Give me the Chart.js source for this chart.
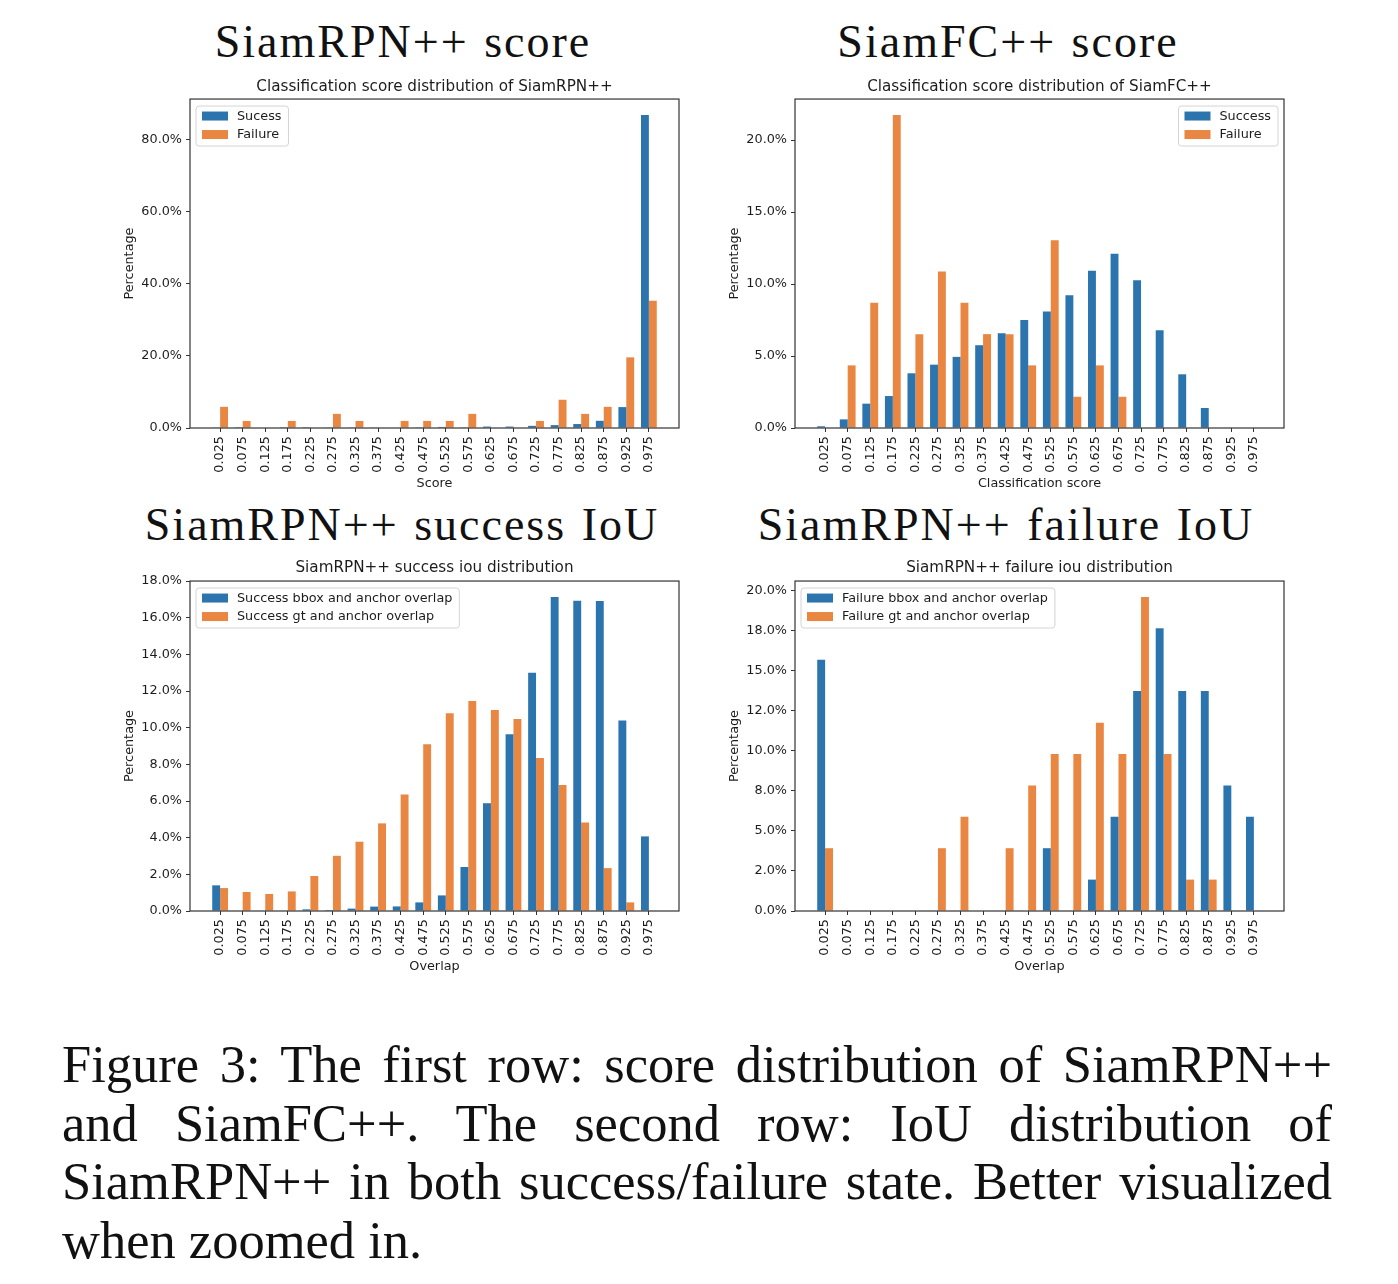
<!DOCTYPE html>
<html><head><meta charset="utf-8">
<script src="https://cdn.jsdelivr.net/npm/chart.js@4.4.1/dist/chart.umd.min.js"></script>
<style>
html,body{margin:0;padding:0;background:#fff;}
body{width:1398px;height:1284px;position:relative;overflow:hidden;}
.hd{position:absolute;font-family:"Liberation Serif",serif;font-size:46px;line-height:46px;letter-spacing:2px;word-spacing:2px;white-space:nowrap;color:#111;transform:translateX(-50%);}
canvas{position:absolute;}
.cap{position:absolute;left:62px;width:1270px;height:58.5px;font-family:"Liberation Serif",serif;font-size:52.5px;line-height:58.5px;color:#111;}
.j{text-align:justify;text-align-last:justify;}
</style></head>
<body>
<div class="hd" style="left:403px;top:19px;">SiamRPN++ score</div>
<div class="hd" style="left:1008px;top:19px;">SiamFC++ score</div>
<div class="hd" style="left:402px;top:502px;">SiamRPN++ success IoU</div>
<div class="hd" style="left:1006px;top:502px;">SiamRPN++ failure IoU</div>

<canvas id="c1" width="580" height="422" style="left:110px;top:72px;width:580px;height:422px;"></canvas>
<canvas id="c2" width="580" height="422" style="left:715px;top:72px;width:580px;height:422px;"></canvas>
<canvas id="c3" width="580" height="427" style="left:110px;top:550px;width:580px;height:427px;"></canvas>
<canvas id="c4" width="580" height="427" style="left:715px;top:550px;width:580px;height:427px;"></canvas>

<div class="cap j" style="top:1035px;">Figure 3: The first row: score distribution of SiamRPN++</div>
<div class="cap j" style="top:1093.5px;">and SiamFC++. The second row: IoU distribution of</div>
<div class="cap j" style="top:1152px;">SiamRPN++ in both success/failure state. Better visualized</div>
<div class="cap" style="top:1210.5px;">when zoomed in.</div>

<script>
// ---------- data ----------
const categories = ['0.025','0.075','0.125','0.175','0.225','0.275','0.325','0.375','0.425','0.475',
                    '0.525','0.575','0.625','0.675','0.725','0.775','0.825','0.875','0.925','0.975'];

const rpnScoreSuccess = [0.1,0.05,0,0.05,0.05,0.1,0.1,0.1,0.15,0.2,0.3,0.2,0.4,0.4,0.6,0.8,1.1,2.0,5.8,86.9];
const rpnScoreFailure = [5.88,1.96,0,1.96,0,3.92,1.96,0,1.96,1.96,1.96,3.92,0,0,1.96,7.84,3.92,5.88,19.61,35.29];

const fcScoreSuccess = [0.12,0.6,1.69,2.22,3.8,4.4,4.94,5.75,6.58,7.51,8.09,9.22,10.92,12.1,10.27,6.79,3.73,1.39,0.03,0];
const fcScoreFailure = [0,4.35,8.7,21.74,6.52,10.87,8.7,6.52,6.52,4.35,13.04,2.17,4.35,2.17,0,0,0,0,0,0];

const successBboxIou = [1.4,0,0.03,0.03,0.09,0.05,0.13,0.24,0.25,0.47,0.85,2.4,5.88,9.64,13.0,17.13,16.93,16.91,10.39,4.07];
const successGtIou   = [1.25,1.04,0.93,1.07,1.91,3.01,3.78,4.78,6.36,9.1,10.79,11.46,10.97,10.48,8.35,6.87,4.83,2.34,0.47,0.02];

const failureBboxIou = [15.69,0,0,0,0,0,0,0,0,0,3.92,0,1.96,5.88,13.73,17.65,13.73,13.73,7.84,5.88];
const failureGtIou   = [3.92,0,0,0,0,3.92,5.88,0,3.92,7.84,9.80,9.80,11.76,9.80,19.61,9.80,1.96,1.96,0,0];

const yTicksRpnScore = [0,20,40,60,80];
const yLabelsRpnScore = ['0.0%','20.0%','40.0%','60.0%','80.0%'];
const yTicksFcScore = [0,5,10,15,20];
const yLabelsFcScore = ['0.0%','5.0%','10.0%','15.0%','20.0%'];
const yTicksSuccIou = [0,2,4,6,8,10,12,14,16,18];
const yLabelsSuccIou = ['0.0%','2.0%','4.0%','6.0%','8.0%','10.0%','12.0%','14.0%','16.0%','18.0%'];
const yTicksFailIou = [0,2.5,5,7.5,10,12.5,15,17.5,20];
const yLabelsFailIou = ['0.0%','2.0%','5.0%','8.0%','10.0%','12.0%','15.0%','18.0%','20.0%'];

// ---------- style ----------
const BLUE = '#2c74ad';
const ORANGE = '#e98642';
const FONT = '"DejaVu Sans", sans-serif';
const TXT = '#1c1c1c';
const SMALL = 12.8;

const mplDecor = {
  id: 'mplDecor',
  afterLayout(chart) {
    if (chart.titleBlock) {
      chart.titleBlock.left = chart.chartArea.left;
      chart.titleBlock.right = chart.chartArea.right;
    }
  },
  afterDraw(chart, args, opts) {
    const ctx = chart.ctx, a = chart.chartArea;
    ctx.save();
    ctx.strokeStyle = '#333'; ctx.lineWidth = 1.2;
    ctx.strokeRect(a.left, a.top, a.right - a.left, a.bottom - a.top);
    ctx.font = SMALL + 'px ' + FONT;
    const items = chart.data.datasets.map(d => ({label: d.label, color: d.backgroundColor}));
    const maxW = Math.max(...items.map(i => ctx.measureText(i.label).width));
    const pad = 6, patchW = 26, patchH = 9, gap = 9, rowH = 18.5;
    const w = pad + patchW + gap + maxW + 7;
    const h = 40;
    const x = opts.align === 'right' ? a.right - 6 - w : a.left + 6;
    const y = a.top + 7;
    ctx.beginPath();
    if (ctx.roundRect) ctx.roundRect(x, y, w, h, 3); else ctx.rect(x, y, w, h);
    ctx.fillStyle = 'rgba(255,255,255,0.85)'; ctx.fill();
    ctx.strokeStyle = '#d4d4d4'; ctx.lineWidth = 1; ctx.stroke();
    items.forEach((it, k) => {
      const cy = y + 10 + k * rowH;
      ctx.fillStyle = it.color;
      ctx.fillRect(x + pad, cy - patchH / 2, patchW, patchH);
      ctx.fillStyle = TXT; ctx.textBaseline = 'middle'; ctx.textAlign = 'left';
      ctx.fillText(it.label, x + pad + patchW + gap, cy + 0.5);
    });
    ctx.restore();
  }
};

function makeChart(id, o) {
  return new Chart(document.getElementById(id), {
    type: 'bar',
    data: {
      datasets: [
        { label: o.names[0], data: o.series[0].map((v, i) => ({x: i, y: v})), backgroundColor: BLUE },
        { label: o.names[1], data: o.series[1].map((v, i) => ({x: i, y: v})), backgroundColor: ORANGE }
      ]
    },
    options: {
      responsive: false, animation: false, events: [],
      datasets: { bar: { categoryPercentage: 0.7, barPercentage: 1.0, borderWidth: 0 } },
      layout: { padding: { left: 0, right: 11, top: 0, bottom: 0 } },
      plugins: {
        legend: { display: false }, tooltip: { enabled: false },
        title: { display: true, text: o.title, color: TXT,
                 font: { family: FONT, size: 15.2, weight: 'normal' },
                 padding: { top: o.tPadTop, bottom: o.tPadBottom } },
        mplDecor: { align: o.legendAlign }
      },
      scales: {
        x: {
          type: 'linear', min: -1.335, max: 20.335, offset: false,
          afterBuildTicks: s => { s.ticks = categories.map((c, i) => ({value: i})); },
          afterFit: s => { s.height = 66; },
          ticks: { callback: (v, i) => categories[i], autoSkip: false, minRotation: 90, maxRotation: 90,
                   color: TXT, font: { family: FONT, size: SMALL }, padding: 4 },
          grid: { offset: false, drawOnChartArea: false, drawTicks: true, tickLength: 4, color: '#333', lineWidth: 1 },
          border: { display: false },
          title: { display: true, text: o.xTitle, color: TXT, font: { family: FONT, size: SMALL }, padding: { top: 2, bottom: 3 } }
        },
        y: {
          min: 0, max: o.yMax,
          afterBuildTicks: s => { s.ticks = o.yTicks.map(v => ({value: v})); },
          afterFit: s => { s.width = 80; },
          ticks: { callback: (v, i) => o.yLabels[i], color: TXT, font: { family: FONT, size: SMALL }, padding: 4 },
          grid: { drawOnChartArea: false, drawTicks: true, tickLength: 4, color: '#333', lineWidth: 1 },
          border: { display: false },
          title: { display: true, text: 'Percentage', color: TXT, font: { family: FONT, size: SMALL }, padding: { top: 11.5, bottom: 0 } }
        }
      }
    },
    plugins: [mplDecor]
  });
}

makeChart('c1', {
  title: 'Classification score distribution of SiamRPN++', xTitle: 'Score',
  names: ['Sucess', 'Failure'], series: [rpnScoreSuccess, rpnScoreFailure],
  yMax: 91.3, yTicks: yTicksRpnScore, yLabels: yLabelsRpnScore, legendAlign: 'left',
  tPadTop: 5.9, tPadBottom: 2.9
});
makeChart('c2', {
  title: 'Classification score distribution of SiamFC++', xTitle: 'Classification score',
  names: ['Success', 'Failure'], series: [fcScoreSuccess, fcScoreFailure],
  yMax: 22.85, yTicks: yTicksFcScore, yLabels: yLabelsFcScore, legendAlign: 'right',
  tPadTop: 5.9, tPadBottom: 2.9
});
makeChart('c3', {
  title: 'SiamRPN++ success iou distribution', xTitle: 'Overlap',
  names: ['Success bbox and anchor overlap', 'Success gt and anchor overlap'], series: [successBboxIou, successGtIou],
  yMax: 18, yTicks: yTicksSuccIou, yLabels: yLabelsSuccIou, legendAlign: 'left',
  tPadTop: 8.9, tPadBottom: 3.9
});
makeChart('c4', {
  title: 'SiamRPN++ failure iou distribution', xTitle: 'Overlap',
  names: ['Failure bbox and anchor overlap', 'Failure gt and anchor overlap'], series: [failureBboxIou, failureGtIou],
  yMax: 20.6, yTicks: yTicksFailIou, yLabels: yLabelsFailIou, legendAlign: 'left',
  tPadTop: 8.9, tPadBottom: 3.9
});
</script>
</body></html>
